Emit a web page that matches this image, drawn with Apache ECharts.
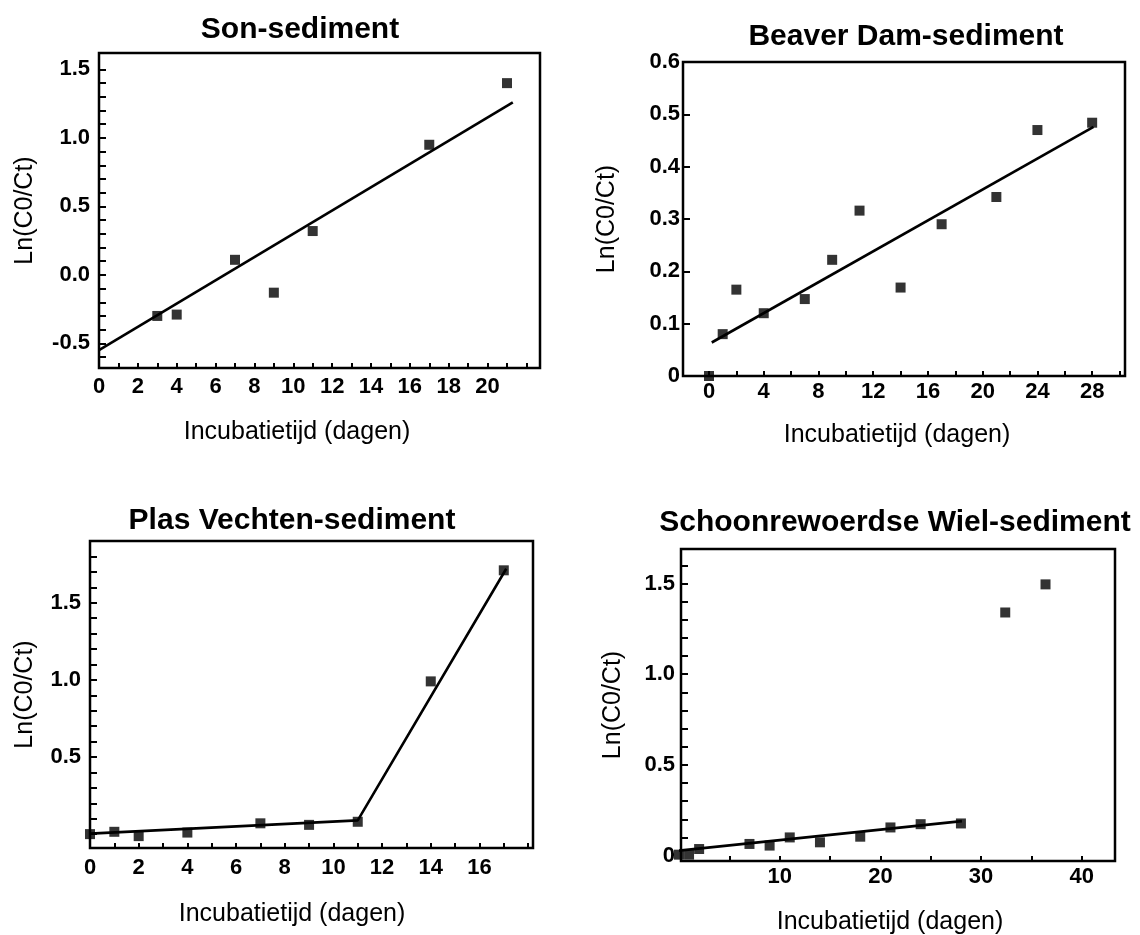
<!DOCTYPE html>
<html>
<head>
<meta charset="utf-8">
<title>Ln(C0/Ct) per sediment</title>
<script src="https://cdn.jsdelivr.net/npm/echarts@6/dist/echarts.min.js"></script>
<style>
  html, body { margin: 0; padding: 0; background: #fff; }
  #chart { width: 1140px; height: 935px; }
</style>
</head>
<body>
<div id="chart"></div>
<script>
// Son-sediment
const sonDays = [3, 4, 7, 9, 11, 17, 21]
const sonLn = [-0.30, -0.29, 0.11, -0.13, 0.32, 0.95, 1.40]
const sonFitDays = [0, 21.3]
const sonFitLn = [-0.55, 1.26]
const sonXLabels = [0, 2, 4, 6, 8, 10, 12, 14, 16, 18, 20]
const sonYLabels = [-0.5, 0.0, 0.5, 1.0, 1.5]

// Beaver Dam-sediment
const beaverDays = [0, 1, 2, 4, 7, 9, 11, 14, 17, 21, 24, 28]
const beaverLn = [0, 0.08, 0.165, 0.12, 0.147, 0.222, 0.316, 0.169, 0.29, 0.342, 0.47, 0.484]
const beaverFitDays = [0.2, 28.1]
const beaverFitLn = [0.064, 0.476]
const beaverXLabels = [0, 4, 8, 12, 16, 20, 24, 28]
const beaverYLabels = [0, 0.1, 0.2, 0.3, 0.4, 0.5, 0.6]

// Plas Vechten-sediment
const plasDays = [0, 1, 2, 4, 7, 9, 11, 14, 17]
const plasLn = [0.0, 0.015, -0.013, 0.01, 0.07, 0.06, 0.08, 0.99, 1.71]
const plasFitDays = [0, 11, 17.1]
const plasFitLn = [0.003, 0.089, 1.72]
const plasXLabels = [0, 2, 4, 6, 8, 10, 12, 14, 16]
const plasYLabels = [0.5, 1.0, 1.5]

// Schoonrewoerdse Wiel-sediment
const schoonDays = [0, 1, 2, 7, 9, 11, 14, 18, 21, 24, 28, 32.4, 36.4]
const schoonLn = [0.005, 0.005, 0.036, 0.064, 0.055, 0.10, 0.073, 0.104, 0.155, 0.173, 0.177, 1.34, 1.495]
const schoonFitDays = [0, 28.1]
const schoonFitLn = [0.027, 0.19]
const schoonXLabels = [10, 20, 30, 40]
const schoonYLabels = [0, 0.5, 1.0, 1.5]

const FONT = 'Liberation Sans, Arial, Helvetica, sans-serif'
const xName = 'Incubatietijd (dagen)'
const yName = 'Ln(C0/Ct)'

// tick positions along an axis (not data)
const steps = (from, to, step) => {
  const out = []
  for (let v = from; v <= to + 1e-9; v += step) out.push(Math.round(v * 1000) / 1000)
  return out
}
const pair = (xs, ys) => xs.map((x, i) => [x, ys[i]])

const grids = [
  { left: 99, top: 53, width: 441, height: 315 },
  { left: 683, top: 62, width: 442, height: 314 },
  { left: 90, top: 541, width: 443, height: 307 },
  { left: 681, top: 549, width: 434, height: 312 },
].map((g) => ({ ...g, show: true, borderColor: '#000', borderWidth: 2.5, containLabel: false }))

const xAxis = (idx, min, max, ticks, labels, margin) => ({
  type: 'value',
  gridIndex: idx,
  min,
  max,
  axisLine: { show: false, onZero: false },
  splitLine: { show: false },
  axisTick: { inside: true, length: 5, customValues: ticks, lineStyle: { color: '#000', width: 2 } },
  axisLabel: {
    customValues: labels,
    margin,
    color: '#000',
    fontFamily: FONT,
    fontWeight: 'bold',
    fontSize: 22,
    formatter: (v) => String(v),
  },
})

const yAxis = (idx, min, max, ticks, labels, fmt, nameGap, margin) => ({
  type: 'value',
  gridIndex: idx,
  min,
  max,
  name: yName,
  nameLocation: 'middle',
  nameGap,
  nameTextStyle: { color: '#000', fontFamily: FONT, fontSize: 25 },
  axisLine: { show: false, onZero: false },
  splitLine: { show: false },
  axisTick: { inside: true, length: 7, customValues: ticks, lineStyle: { color: '#000', width: 2 } },
  axisLabel: {
    customValues: labels,
    margin,
    color: '#000',
    fontFamily: FONT,
    fontWeight: 'bold',
    fontSize: 22,
    formatter: fmt,
  },
})

const oneDec = (v) => v.toFixed(1)
const zeroPlain = (v) => (v === 0 ? '0' : v.toFixed(1))

const points = (idx, xs, ys) => ({
  type: 'scatter',
  xAxisIndex: idx,
  yAxisIndex: idx,
  data: pair(xs, ys),
  symbol: 'rect',
  symbolSize: 10,
  clip: false,
  itemStyle: { color: '#000' },
  silent: true,
  z: 3,
})

const fit = (idx, xs, ys) => ({
  type: 'line',
  xAxisIndex: idx,
  yAxisIndex: idx,
  data: pair(xs, ys),
  showSymbol: false,
  symbol: 'none',
  lineStyle: { color: '#000', width: 2.6 },
  silent: true,
  z: 2,
})

const text = (x, y, t, bold) => ({
  type: 'text',
  x,
  y,
  style: {
    text: t,
    fill: '#000',
    font: (bold ? 'bold 30px ' : '25px ') + FONT,
    textAlign: 'center',
    textVerticalAlign: 'middle',
  },
})

const chart = echarts.init(document.getElementById('chart'), null, { renderer: 'canvas' })
chart.setOption({
  backgroundColor: '#fff',
  animation: false,
  grid: grids,
  xAxis: [
    xAxis(0, 0, 22.7, steps(1, 22, 1), sonXLabels, 8),
    xAxis(1, -1.9, 30.4, steps(0, 30, 2), beaverXLabels, 5),
    xAxis(2, 0, 18.2, steps(1, 18, 1), plasXLabels, 9),
    xAxis(3, 0.2, 43.3, steps(5, 40, 5), schoonXLabels, 5),
  ],
  yAxis: [
    yAxis(0, -0.68, 1.62, steps(-0.6, 1.5, 0.1), sonYLabels, oneDec, 61, 9),
    yAxis(1, 0, 0.6, steps(0.1, 0.5, 0.1), beaverYLabels, zeroPlain, 63, 3),
    yAxis(2, -0.09, 1.9, steps(0, 1.8, 0.1), plasYLabels, oneDec, 52, 9),
    yAxis(3, -0.03, 1.69, steps(0.1, 1.6, 0.1), schoonYLabels, zeroPlain, 55, 6),
  ],
  series: [
    fit(0, sonFitDays, sonFitLn),
    points(0, sonDays, sonLn),
    fit(1, beaverFitDays, beaverFitLn),
    points(1, beaverDays, beaverLn),
    fit(2, plasFitDays, plasFitLn),
    points(2, plasDays, plasLn),
    fit(3, schoonFitDays, schoonFitLn),
    points(3, schoonDays, schoonLn),
  ],
  graphic: [
    text(300, 30, 'Son-sediment', true),
    text(906, 37, 'Beaver Dam-sediment', true),
    text(292, 521, 'Plas Vechten-sediment', true),
    text(895, 523, 'Schoonrewoerdse Wiel-sediment', true),
    text(297, 432, xName, false),
    text(897, 435, xName, false),
    text(292, 914, xName, false),
    text(890, 922, xName, false),
  ],
})
</script>
</body>
</html>
